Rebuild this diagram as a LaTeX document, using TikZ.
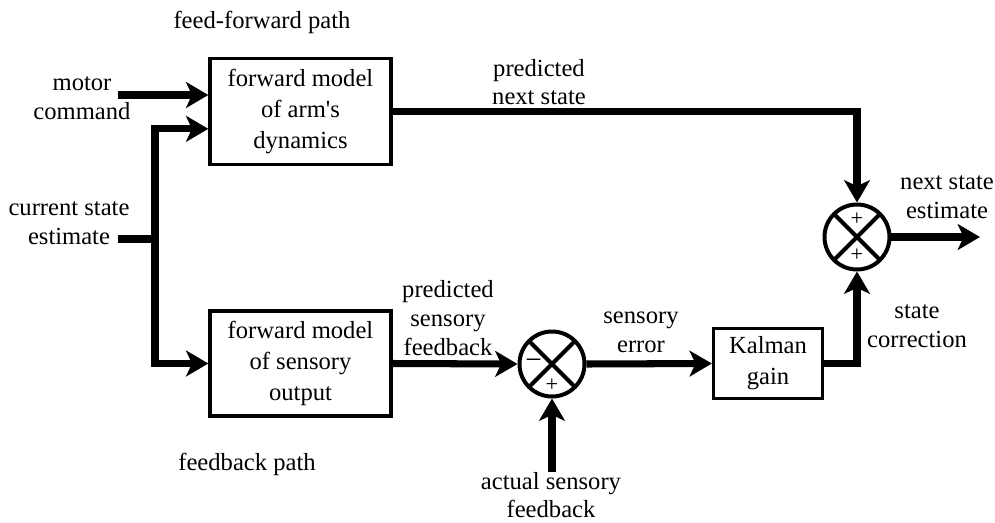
\documentclass[tikz,border=0pt]{standalone}
\usepackage{fontspec}
\setmainfont{Liberation Serif}
\newfontfamily\serifl{Liberation Serif}
\usetikzlibrary{arrows.meta,positioning,calc}

\begin{document}
\begin{tikzpicture}[x=0.03cm,y=-0.03cm,>={Stealth[length=19pt,width=22pt,inset=5pt]},
  sig/.style={line width=6pt},
  blk/.style={draw,line width=2.8pt,align=center,inner sep=0pt,font=\serifl\fontsize{21}{26.5}\selectfont},
  lab/.style={align=center,inner sep=0pt,font=\serifl\fontsize{21}{24.5}\selectfont},
  sum/.style={circle,draw,line width=3.4pt,minimum size=1.95cm,inner sep=0pt,
    path picture={\draw[line width=3.4pt] (path picture bounding box.north west) -- (path picture bounding box.south east)
      (path picture bounding box.north east) -- (path picture bounding box.south west);}},
  sgn/.style={inner sep=0pt,font=\serifl\fontsize{19}{19}\selectfont}]
  \useasboundingbox (0,0) rectangle (995,522);

  % blocks
  \node[blk,minimum width=5.43cm,minimum height=3.18cm] (ffwd) at (300.5,111.5) {forward model\\of arm\textquotesingle s\\dynamics};
  \node[blk,minimum width=5.43cm,minimum height=3.15cm] (fbk) at (300.5,363.5) {forward model\\of sensory\\output};
  \node[blk,minimum width=3.27cm,minimum height=2.1cm] (kal) at (768,363.5) {Kalman\\gain};
  \node[sum] (s1) at (552,364) {};
  \node[sum] (s2) at (857,237) {};
  \node[sgn,font=\serifl\fontsize{25}{25}\selectfont] (s1m) at ([xshift=-0.55cm]s1.center) {−};
  \node[sgn] (s1p) at ([yshift=-0.63cm]s1.center) {+};
  \node[sgn] (s2t) at ([yshift=0.54cm]s2.center) {+};
  \node[sgn] (s2b) at ([yshift=-0.54cm]s2.center) {+};

  % free ends
  \coordinate (mc) at (118,95);
  \coordinate (cse) at (118,239);
  \coordinate (split) at (155,239);
  \coordinate (act) at (552,472);
  \coordinate (out) at (980,237);

  % signals
  \draw[sig,->] (mc) -- (mc -| ffwd.west);
  \draw[sig] (cse) -- (split);
  \draw[sig,->] (split) |- ([yshift=-0.52cm]ffwd.west);
  \draw[sig,->] (split) |- (fbk.west);
  \draw[sig,->] (ffwd.east) -| (s2.north);
  \draw[sig,->] (fbk.east) -- (s1.west);
  \draw[sig,->] (act) -- (s1.south);
  \draw[sig,->] (s1.east) -- (kal.west);
  \draw[sig,->] (kal.east) -| (s2.south);
  \draw[sig,->] (s2.east) -- (out);

  % labels
  \node[lab] (lmc) at (82,98) {motor\\command};
  \node[lab] (lcs) at (69,223) {current state\\estimate};
  \node[lab] (lff) at (262,22) {feed-forward path};
  \node[lab] (lfb) at (247,464) {feedback path};
  \node[lab] (lpn) at (539,82) {predicted\\next state};
  \node[lab] (lps) at (448,318) {predicted\\sensory\\feedback};
  \node[lab] (lse) at (641,332) {sensory\\error};
  \node[lab] (lns) at (947,197) {next state\\estimate};
  \node[lab] (lsc) at (917,326) {state\\correction};
  \node[lab,font=\serifl\fontsize{21}{23.5}\selectfont] (las) at (551,495) {actual sensory\\feedback};
\end{tikzpicture}
\end{document}
